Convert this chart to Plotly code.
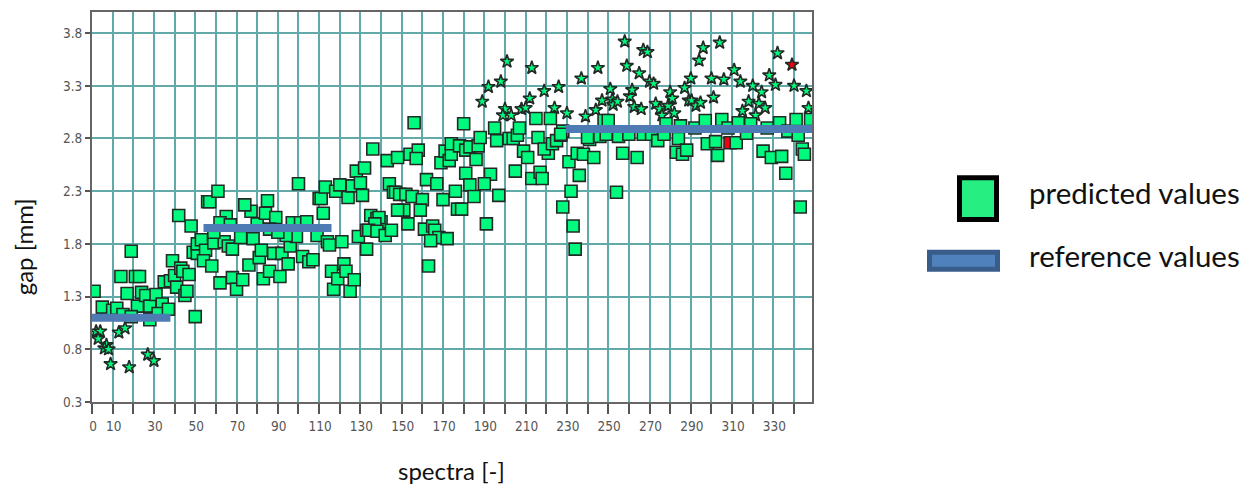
import plotly.graph_objects as go

pred_x = [1,5,10,12,15,14,17,19,21,23,22,19,24,26,28,28,31,34,32,37,35,38,39,40,41,43,44,45,46,47,
          50,49,51,51,53,55,54,58,59,62,64,66,68,68,70,73,72,78,76,81,82,83,86,88,92,91,95,96,99,94,
          102,105,107,109,114,115,121,116,117,119,122,123,125,127,129,42,48,65,62,67,59,77,80,84,89,86,90,97,101,104,
          112,56,57,61,74,85,100,110,111,113,118,120,124,126,128,130,131,132,135,138,
          133,139,137,133,
          136,143,148,154,158,157,144,146,147,149,152,155,160,162,167,170,176,169,171,173,
          174,174,178,181,183,186,187,188,196,202,204,206,216,209,211,205,181,193,190,183,
          185,197,177,179,159,151,148,153,140,139,137,134,138,142,145,161,165,166,168,164,
          172,163,191,213,217,218,221,219,223,225,227,231,232,228,233,234,236,235,238,
          156,180,195,207,215,222,228,227,
          243,241,240,246,249,248,250,257,264,254,255,260,267,271,274,277,278,284,285,283,
          286,288,292,297,305,298,302,303,312,308,313,319,317,325,329,334,327,333,337,341,
          342,348,336,344,345,343]
pred_y = [1.35,1.20,1.17,1.19,1.13,1.49,1.33,1.73,1.49,1.49,1.21,1.11,1.34,1.31,1.08,1.21,1.32,1.23,1.14,1.18,1.44,1.45,1.64,1.50,1.39,1.57,1.54,1.31,1.35,1.51,
          1.11,1.72,1.71,1.80,1.84,1.74,1.64,1.59,1.81,1.43,1.82,1.78,1.75,1.48,1.37,1.46,1.86,1.85,1.60,1.67,1.74,1.47,1.54,1.71,1.71,1.49,1.61,1.78,1.87,1.88,
          1.68,1.63,1.65,1.88,1.82,1.79,1.82,1.54,1.37,1.47,1.61,1.54,1.35,1.46,1.87,2.07,1.97,2.06,2.00,1.98,1.91,2.11,1.99,2.09,2.05,1.94,1.91,2.00,2.00,2.01,
          2.09,2.20,2.20,2.30,2.17,2.21,2.37,2.23,2.23,2.34,2.30,2.36,2.24,2.35,2.49,2.38,2.26,2.52,2.07,2.04,
          1.93,1.99,1.93,1.75,
          2.70,2.59,2.62,2.65,2.69,2.61,2.37,2.29,2.29,2.27,2.27,2.25,2.22,2.41,2.37,2.22,2.30,2.57,2.68,2.59,
          2.65,2.75,2.73,2.69,2.72,2.60,2.73,2.81,2.78,2.80,2.80,2.83,2.81,2.68,2.62,2.49,2.47,2.46,2.37,2.36,
          2.25,2.26,2.13,2.13,2.12,2.12,2.12,1.99,2.01,2.05,1.99,1.93,1.92,1.88,1.93,1.94,1.97,1.93,1.86,1.83,
          1.85,1.59,1.99,2.42,2.48,2.42,2.66,2.70,2.75,2.78,2.83,2.58,2.30,2.15,1.97,1.75,2.45,2.66,2.65,
          2.95,2.94,2.90,2.90,2.99,2.99,2.87,2.84,
          2.62,2.79,2.81,2.82,2.84,2.97,2.97,2.66,2.62,2.29,2.82,2.84,2.84,2.84,2.78,2.84,2.94,2.80,2.92,2.67,
          2.65,2.69,2.90,2.97,2.98,2.75,2.77,2.64,2.76,2.90,2.95,2.94,2.85,2.68,2.62,2.63,2.90,2.95,2.87,2.98,
          2.83,2.98,2.47,2.70,2.65,2.15]
high_x = [2,4,3,7,6,8,9,13,16,18,27,30,
          201,213,237,198,192,189,226,219,212,200,199,203,208,210,224,230,239,
          245,244,247,251,252,252.4,254.5,258,259,265,267,269,260.5,261.6,262.6,266,270,272,273,275,276,279,280,281,282,
          287,290,289,290.4,292.5,294.7,294,296,304,300,301,306,311,314,315,318,320,321.4,323,324.3,326,328,331,332,340,346,347]
high_y = [0.97,0.97,0.90,0.84,0.81,0.80,0.66,0.96,1.00,0.63,0.75,0.69,
          3.53,3.47,3.37,3.34,3.29,3.15,3.29,3.25,3.18,3.08,3.02,3.02,3.08,3.09,3.09,3.04,3.01,
          3.47,3.07,3.16,3.27,3.17,3.12,3.15,3.72,3.49,3.42,3.64,3.62,3.20,3.26,3.10,3.08,3.34,3.32,3.13,3.08,3.02,3.11,3.24,3.18,3.04,
          3.28,3.37,3.16,3.16,3.11,3.14,3.54,3.66,3.71,3.37,3.19,3.36,3.45,3.34,3.06,3.15,3.30,3.02,3.13,3.24,3.09,3.40,3.31,3.61,3.30,3.25,3.09]
red_square = ([309], [2.76])
red_star = ([339], [3.50])
reference_segments = [([-2, 38], [1.10, 1.10]), ([54, 116], [1.95, 1.95]), ([229.5, 349], [2.89, 2.89])]

y_ticks = [0.3, 0.8, 1.3, 1.8, 2.3, 2.8, 3.3, 3.8]
x_ticks = list(range(0, 350, 10))
x_labels = [str(v) if (v == 0 or v % 20 == 10) else "" for v in x_ticks]

GREEN = "#00FA7D"
EDGE = "#222A26"
BLUE = "#4F7BB5"

fig = go.Figure()
fig.add_trace(go.Scatter(x=high_x, y=high_y, mode="markers",
                         marker=dict(symbol="star", size=10, color=GREEN, line=dict(color=EDGE, width=1.6))))
fig.add_trace(go.Scatter(x=red_star[0], y=red_star[1], mode="markers",
                         marker=dict(symbol="star", size=10, color="#F00010", line=dict(color=EDGE, width=1.6))))
fig.add_trace(go.Scatter(x=red_square[0], y=red_square[1], mode="markers",
                         marker=dict(symbol="square", size=12, color="#F00010", line=dict(color=EDGE, width=1.6))))
fig.add_trace(go.Scatter(x=pred_x, y=pred_y, mode="markers",
                         marker=dict(symbol="square", size=12, color=GREEN, line=dict(color=EDGE, width=1.6))))
for sx, sy in reference_segments:
    fig.add_trace(go.Scatter(x=sx, y=sy, mode="lines", cliponaxis=False,
                             line=dict(color=BLUE, width=8)))

tick_font = dict(family="DejaVu Sans Condensed, Liberation Sans Narrow, Liberation Sans", size=13.5, color="#555555")
grid = "#62AAAA"
fig.update_xaxes(range=[0, 348.7], tickmode="array", tickvals=x_ticks, ticktext=x_labels,
                 ticks="outside", ticklen=10, tickwidth=1.5, tickcolor="#555555", tickfont=tick_font,
                 ticklabelshift=1, ticklabelstandoff=1,
                 showgrid=True, gridcolor=grid, gridwidth=1.6, zeroline=False,
                 showline=True, linecolor="#666666", linewidth=2, mirror=True)
fig.update_yaxes(range=[0.3, 4.0], tickmode="array", tickvals=y_ticks,
                 ticktext=[f"{v:.1f}" for v in y_ticks],
                 ticks="outside", ticklen=5, tickwidth=1.5, tickcolor="#555555", tickfont=tick_font,
                 showgrid=True, gridcolor=grid, gridwidth=1.6, zeroline=False,
                 showline=True, linecolor="#666666", linewidth=2, mirror=True)

px0, pw, py0, ph = 92, 720, 10, 392
def ax(px):
    return (px - px0) / pw
def ay(py):
    return 1 - (py - py0) / ph

title_font = dict(family="Lato", size=24, color="#111111")
legend_font = dict(family="Lato", size=29.5, color="#111111")
fig.update_layout(
    width=1253, height=487, showlegend=False, plot_bgcolor="white", paper_bgcolor="white",
    margin=dict(l=92, r=441, t=10, b=85),
    annotations=[
        dict(text="gap [mm]", x=ax(23), y=ay(246.5), xref="paper", yref="paper", xanchor="center",
             yanchor="middle", textangle=-90, showarrow=False, font=title_font),
        dict(text="spectra [-]", x=ax(451), y=ay(471), xref="paper", yref="paper", xanchor="center",
             yanchor="middle", showarrow=False, font=title_font),
        dict(text="predicted values", x=ax(1027), y=ay(191.5), xref="paper", yref="paper", xanchor="left",
             yanchor="middle", showarrow=False, font=legend_font),
        dict(text="reference values", x=ax(1027), y=ay(255), xref="paper", yref="paper", xanchor="left",
             yanchor="middle", showarrow=False, font=legend_font),
    ],
)
def rect(x0, y0, x1, y1, fill, edge, w):
    fig.add_shape(type="rect", xref="paper", yref="paper",
                  x0=ax(x0), x1=ax(x1), y0=ay(y0), y1=ay(y1),
                  fillcolor=fill, line=dict(color=edge, width=w))
rect(959.5, 176.5, 996.5, 218.5, "#27EE80", "#000000", 5)
rect(929.5, 251.5, 997.5, 268.5, "#4F81BD", "#385D8A", 5)

fig.write_html("out.html", config={"displayModeBar": False},
               post_script="document.body.style.margin='0';document.documentElement.style.overflow='hidden';")
